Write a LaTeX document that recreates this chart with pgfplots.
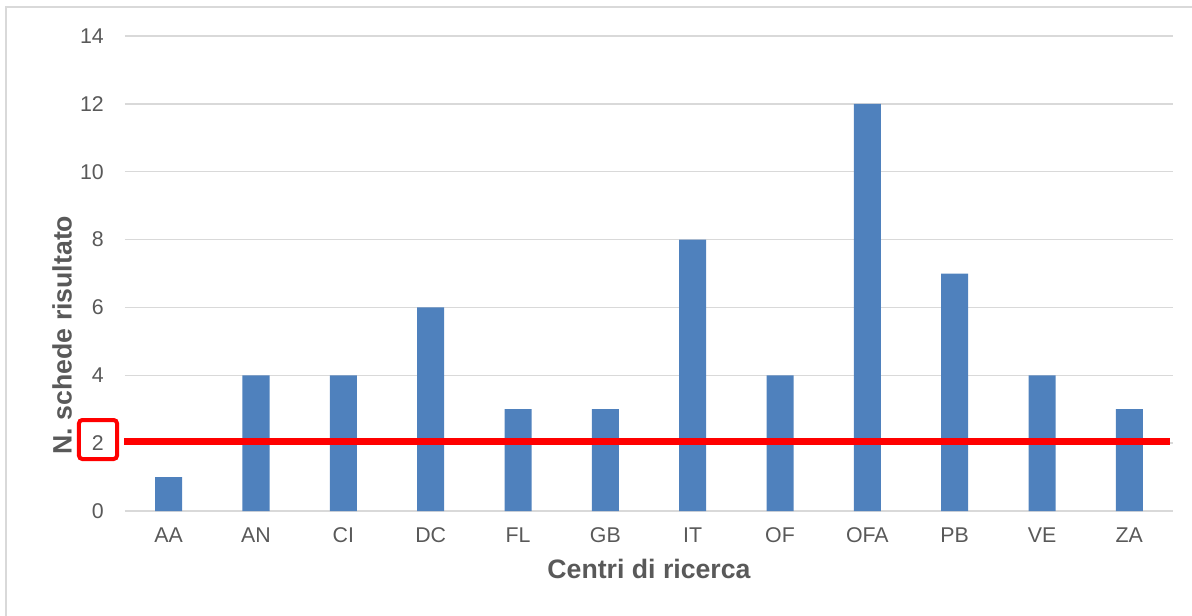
\documentclass[border=0pt]{standalone}
\usepackage{pgfplots}
\pgfplotsset{compat=1.18}
\usepackage{fontspec}
\setmainfont{Liberation Sans}
\definecolor{txtgray}{HTML}{595959}
\definecolor{gridgray}{HTML}{D9D9D9}
\definecolor{barblue}{HTML}{4F81BD}
\definecolor{bordergray}{HTML}{D9D9D9}
\begin{document}
\begin{tikzpicture}
\def\px{0.75pt}
\path[use as bounding box] (-125*\px,-104*\px) rectangle (1067*\px,511*\px);
\draw[bordergray, line width=1.5pt] (-119*\px,-110*\px) -- (-119*\px,504*\px) -- (1075*\px,504*\px);
\begin{axis}[
  at={(0,0)}, anchor=south west,
  scale only axis,
  width=786pt, height=356.25pt,
  xmin=-0.5, xmax=11.5,
  ymin=0, ymax=14,
  ytick={0,2,4,6,8,10,12,14},
  xtick={0,1,2,3,4,5,6,7,8,9,10,11},
  xticklabels={AA,AN,CI,DC,FL,GB,IT,OF,OFA,PB,VE,ZA},
  /pgf/number format/assume math mode=true,
  axis line style={draw=none},
  tick style={draw=none},
  ymajorgrids,
  major grid style={gridgray, line width=1pt},
  clip=false,
  ticklabel style={font=\fontsize{16pt}{18pt}\selectfont, text=txtgray, inner sep=0pt},
  yticklabel style={anchor=east, xshift=-15.75pt},
  xticklabel style={anchor=center, yshift=-18.4pt},
  xlabel={Centri di ricerca},
  ylabel={N. schede risultato},
  label style={font=\bfseries\fontsize{20pt}{24pt}\selectfont, text=txtgray},
  xlabel style={at={(axis description cs:0.5,-0.1221)}, anchor=center},
  ylabel style={at={(axis description cs:-0.0601,0.3705)}, anchor=center},
]
\draw[gridgray, line width=1.5pt] (axis cs:-0.5,0) -- (axis cs:11.5,0);
\addplot[ybar, bar width=20.25pt, bar shift=0pt, fill=barblue, draw=none] coordinates {
(0,1) (1,4) (2,4) (3,6) (4,3) (5,3) (6,8) (7,4) (8,12) (9,7) (10,4) (11,3)
};
\addplot[red, line width=5.25pt, no marks] coordinates {(-0.51,2.06) (11.46,2.06)};
\end{axis}
\draw[red, line width=3pt, rounded corners=2.5pt] (-46*\px,52*\px) rectangle (-8*\px,91*\px);
\end{tikzpicture}
\end{document}
